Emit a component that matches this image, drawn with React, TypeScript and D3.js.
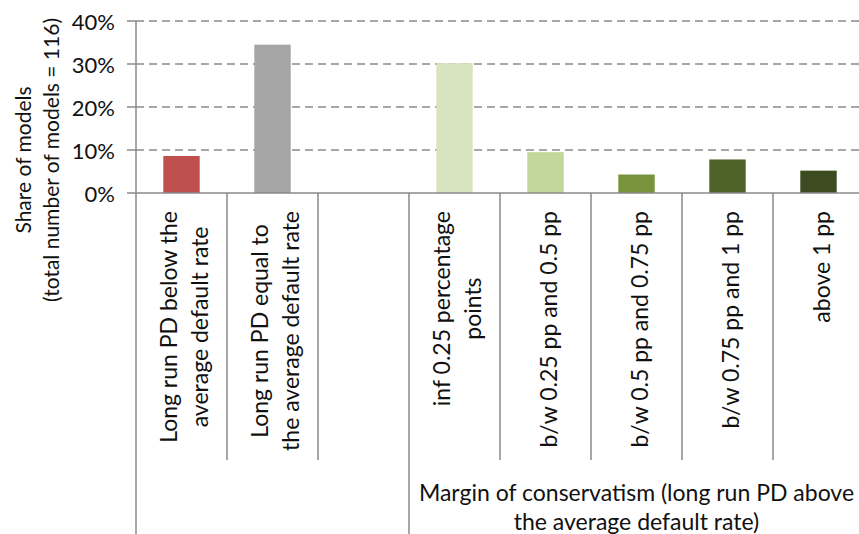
import React, { useEffect, useRef } from "react";
import * as d3 from "d3";

// categories, one entry per line of the rotated label
const categories: string[][] = [
  ["Long run PD below the", "average default rate"],
  ["Long run PD equal to", "the average default rate"],
  [],
  ["inf 0.25 percentage", "points"],
  ["b/w 0.25 pp and 0.5 pp"],
  ["b/w 0.5 pp and 0.75 pp"],
  ["b/w 0.75 pp and 1 pp"],
  ["above 1 pp"],
];
const shares: (number | null)[] = [8.6, 34.5, null, 30.2, 9.5, 4.3, 7.8, 5.2];
const barColors = ["#C0504D", "#A5A5A5", "#FFFFFF", "#D7E4BD", "#C3D69B", "#77933C", "#4F6228", "#3D4B20"];
const yTicks = [0, 10, 20, 30, 40];
const groupStart = 3;
const groupLabel = ["Margin of conservatism (long run PD above", "the average default rate)"];
const yTitle = ["Share of models", "(total number of models = 116)"];

const W = 859;
const H = 534;
const FONT = "Lato, 'Open Sans', sans-serif";

export default function App() {
  const svgRef = useRef<SVGSVGElement | null>(null);

  useEffect(() => {
    const svg = d3.select(svgRef.current);
    svg.selectAll("*").remove();

    const left = 136;
    const right = 864;
    const top = 21;
    const base = 193;
    const grey = "#8A8A8A";

    const ids = categories.map((_, i) => String(i));
    const x = d3.scaleBand().domain(ids).range([left, right]).paddingInner(0.6).paddingOuter(0.3);
    const y = d3.scaleLinear().domain([0, 40]).range([base, top]);
    const step = x.step();
    const edge = (i: number) => left + i * step;

    // gridlines
    svg.append("g")
      .selectAll("line")
      .data(yTicks.filter((t) => t > 0))
      .join("line")
      .attr("x1", left)
      .attr("x2", right)
      .attr("y1", (d) => y(d))
      .attr("y2", (d) => y(d))
      .attr("stroke", grey)
      .attr("stroke-width", 1.5)
      .attr("stroke-dasharray", "8,5");

    // bars
    svg.append("g")
      .selectAll("rect")
      .data(shares.map((v, i) => ({ v, i })).filter((d) => d.v !== null))
      .join("rect")
      .attr("x", (d) => x(String(d.i))!)
      .attr("y", (d) => y(d.v as number))
      .attr("width", x.bandwidth())
      .attr("height", (d) => base - y(d.v as number))
      .attr("fill", (d) => barColors[d.i]);

    // y axis with ticks
    const yAxis = svg.append("g");
    yAxis.append("line")
      .attr("x1", left).attr("x2", left)
      .attr("y1", top).attr("y2", H)
      .attr("stroke", grey).attr("stroke-width", 1.5);
    yAxis.selectAll("line.tick")
      .data(yTicks)
      .join("line")
      .attr("class", "tick")
      .attr("x1", left - 9).attr("x2", left)
      .attr("y1", (d) => y(d)).attr("y2", (d) => y(d))
      .attr("stroke", grey).attr("stroke-width", 1.5);
    yAxis.selectAll("text")
      .data(yTicks)
      .join("text")
      .attr("x", 115)
      .attr("y", (d) => y(d))
      .attr("text-anchor", "end")
      .attr("dominant-baseline", "central")
      .attr("font-family", FONT)
      .attr("font-size", 22)
      .attr("fill", "#111")
      .text((d) => `${d}%`);

    // base line
    svg.append("line")
      .attr("x1", left).attr("x2", right)
      .attr("y1", base).attr("y2", base)
      .attr("stroke", grey).attr("stroke-width", 1.5);

    // category dividers
    svg.append("g")
      .selectAll("line")
      .data(d3.range(1, categories.length))
      .join("line")
      .attr("x1", (i) => edge(i)).attr("x2", (i) => edge(i))
      .attr("y1", base)
      .attr("y2", (i) => (i === groupStart ? H : 460))
      .attr("stroke", grey).attr("stroke-width", 1.5);

    // rotated category labels
    categories.forEach((lines, i) => {
      if (!lines.length) return;
      const cx = x(String(i))! + x.bandwidth() / 2 + 2;
      const g = svg.append("g");
      const texts = g.selectAll("text")
        .data(lines)
        .join("text")
        .attr("text-anchor", "middle")
        .attr("dominant-baseline", "central")
        .attr("font-family", FONT)
        .attr("font-size", 23)
        .attr("fill", "#111")
        .text((d) => d);
      let maxLen = 0;
      texts.each(function () {
        maxLen = Math.max(maxLen, (this as SVGTextElement).getComputedTextLength());
      });
      const cy = 211 + maxLen / 2;
      texts.attr("transform", (_, j) => {
        const lx = cx + (j - (lines.length - 1) / 2) * 31;
        return `translate(${lx},${cy}) rotate(-90)`;
      });
    });

    // group label
    const gx = (edge(groupStart) + right) / 2;
    svg.append("g")
      .selectAll("text")
      .data(groupLabel)
      .join("text")
      .attr("x", gx)
      .attr("y", (_, j) => 492 + j * 29)
      .attr("text-anchor", "middle")
      .attr("dominant-baseline", "central")
      .attr("font-family", FONT)
      .attr("font-size", 23)
      .attr("fill", "#111")
      .text((d) => d);

    // y title
    svg.append("g")
      .selectAll("text")
      .data(yTitle)
      .join("text")
      .attr("transform", (_, j) => `translate(${22 + j * 28},160) rotate(-90)`)
      .attr("text-anchor", "middle")
      .attr("dominant-baseline", "central")
      .attr("font-family", FONT)
      .attr("font-size", 21)
      .attr("fill", "#111")
      .text((d) => d);
  }, []);

  return (
    <svg
      ref={svgRef}
      width={W}
      height={H}
      style={{ position: "absolute", left: 0, top: 0, background: "#fff" }}
    />
  );
}
